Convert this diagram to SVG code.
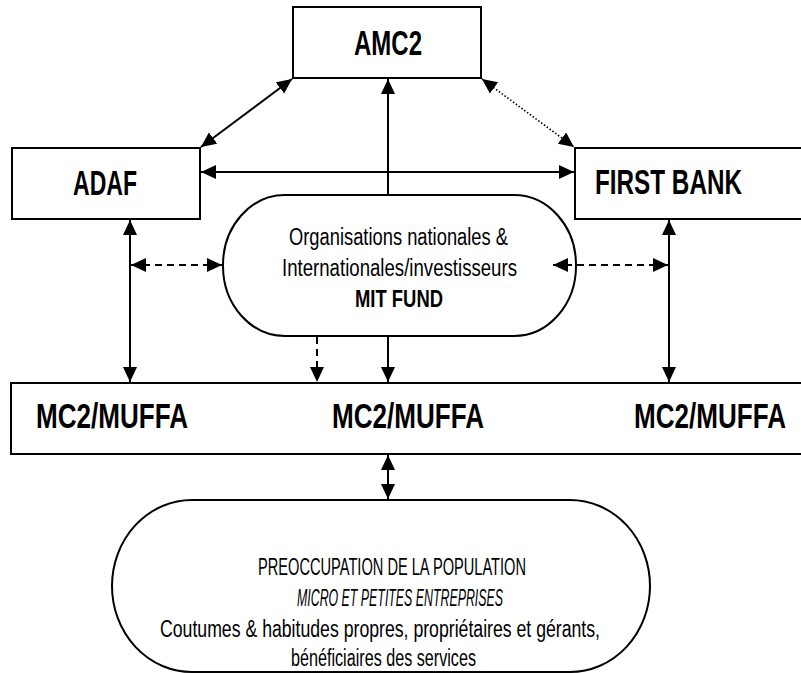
<svg xmlns="http://www.w3.org/2000/svg" width="801" height="673" viewBox="0 0 801 673">
<style>
.box{fill:#fff;stroke:#000;stroke-width:2}
.b{font-family:"Liberation Sans",Arial,sans-serif;font-weight:bold;font-size:35px;fill:#000}
.r{font-family:"Liberation Sans",Arial,sans-serif;font-size:23px;fill:#000}
.rb{font-family:"Liberation Sans",Arial,sans-serif;font-size:23px;font-weight:bold;fill:#000}
.ri{font-family:"Liberation Sans",Arial,sans-serif;font-size:23px;font-style:italic;fill:#000}
.ln{fill:none;stroke:#000;stroke-width:2}
.dash{stroke-dasharray:7 5}
.dot{stroke-dasharray:1.5 2;stroke-width:1.6}
</style>
<defs>
<marker id="ah" markerUnits="userSpaceOnUse" markerWidth="16" markerHeight="15" refX="15" refY="7" orient="auto-start-reverse" viewBox="0 0 16 15">
<path d="M0,0 L15,7 L0,14 z" fill="#000"/>
</marker>
</defs>
<g id="amc2">
<rect class="box" x="293" y="7" width="188" height="71"/>
<text class="b" x="354" y="55" textLength="68" lengthAdjust="spacingAndGlyphs">AMC2</text>
</g>
<g id="adaf">
<rect class="box" x="12" y="148" width="188" height="71"/>
<text class="b" x="73" y="195" textLength="64" lengthAdjust="spacingAndGlyphs">ADAF</text>
</g>
<g id="firstbank">
<rect class="box" x="575" y="148" width="240" height="71"/>
<text class="b" x="595" y="194" textLength="147" lengthAdjust="spacingAndGlyphs">FIRST BANK</text>
</g>
<g id="mitfund">
<rect class="box" x="223" y="195" width="353" height="141" rx="62" ry="70"/>
<text class="r" x="289" y="245" textLength="219" lengthAdjust="spacingAndGlyphs">Organisations nationales &amp;</text>
<text class="r" x="282" y="276" textLength="235" lengthAdjust="spacingAndGlyphs">Internationales/investisseurs</text>
<text class="rb" x="355" y="307" textLength="88" lengthAdjust="spacingAndGlyphs">MIT FUND</text>
</g>
<g id="mc2muffa">
<rect class="box" x="11" y="383" width="800" height="71"/>
<text class="b" x="36" y="428" textLength="152" lengthAdjust="spacingAndGlyphs">MC2/MUFFA</text>
<text class="b" x="332" y="428" textLength="152" lengthAdjust="spacingAndGlyphs">MC2/MUFFA</text>
<text class="b" x="634" y="428" textLength="152" lengthAdjust="spacingAndGlyphs">MC2/MUFFA</text>
</g>
<g id="population">
<rect class="box" x="112" y="500" width="538" height="172" rx="80" ry="86"/>
<text class="r" x="258" y="575" textLength="268" lengthAdjust="spacingAndGlyphs">PREOCCUPATION DE LA POPULATION</text>
<text class="ri" x="297" y="606" textLength="206" lengthAdjust="spacingAndGlyphs">MICRO ET PETITES ENTREPRISES</text>
<text class="r" x="160" y="637" textLength="440" lengthAdjust="spacingAndGlyphs">Coutumes &amp; habitudes propres, propriétaires  et gérants,</text>
<text class="r" x="291" y="666" textLength="185" lengthAdjust="spacingAndGlyphs">bénéficiaires des services</text>
</g>
<g id="connectors">
<line class="ln" x1="201" y1="147" x2="292" y2="79" marker-start="url(#ah)" marker-end="url(#ah)"/>
<line class="ln dot" x1="482" y1="79" x2="574" y2="147" marker-start="url(#ah)" marker-end="url(#ah)"/>
<line class="ln" x1="201" y1="172" x2="574" y2="172" marker-start="url(#ah)" marker-end="url(#ah)"/>
<line class="ln" x1="388" y1="195" x2="388" y2="79" marker-end="url(#ah)"/>
<line class="ln" x1="130" y1="220" x2="130" y2="382" marker-start="url(#ah)" marker-end="url(#ah)"/>
<line class="ln dash" x1="131" y1="265" x2="222" y2="265" marker-start="url(#ah)" marker-end="url(#ah)"/>
<line class="ln" x1="669" y1="220" x2="669" y2="382" marker-start="url(#ah)" marker-end="url(#ah)"/>
<line class="ln dash" x1="553" y1="265" x2="668" y2="265" marker-start="url(#ah)" marker-end="url(#ah)"/>
<line class="ln dash" x1="317" y1="337" x2="317" y2="382" marker-end="url(#ah)"/>
<line class="ln" x1="388" y1="337" x2="388" y2="382" marker-end="url(#ah)"/>
<line class="ln" x1="388" y1="455" x2="388" y2="499" marker-start="url(#ah)" marker-end="url(#ah)"/>
</g>
</svg>
